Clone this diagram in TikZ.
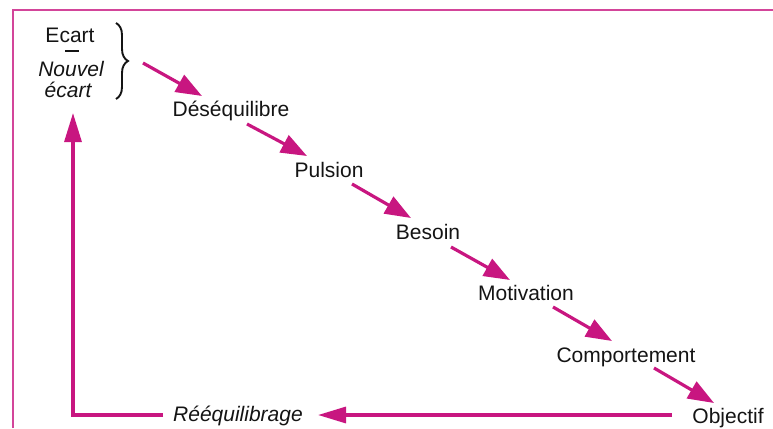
\documentclass[tikz,border=0pt]{standalone}
\usepackage{fontspec}
\setmainfont{Liberation Sans}
\usetikzlibrary{arrows.meta,decorations.pathreplacing}
\definecolor{mag}{RGB}{200,22,128}
\definecolor{txt}{RGB}{20,20,20}
\begin{document}
\begin{tikzpicture}[x=1pt,y=-1pt,
  lbl/.style={anchor=base,inner sep=0pt,font=\fontsize{21}{25}\selectfont,text=txt},
  ilbl/.style={lbl,font=\fontsize{21}{25}\selectfont\itshape},
  arr/.style={draw=mag,line width=3.2pt,-{Triangle[length=26pt,width=19pt]}},
  ]
\useasboundingbox (0,0) rectangle (773,428);
% frame
\draw[mag!80,line width=1.2pt] (13,428) -- (13,10) -- (773,10);
% left group
\node[lbl] (ecart) at (70,42) {Ecart};
\draw[txt,line width=1.4pt] (65,51) -- (79,51);
\node[ilbl] (nouvel) at (71,76) {Nouvel};
\node[ilbl] (ecart2) at (68,97) {écart};
\draw[txt,line width=1.9pt,decorate,decoration={brace,amplitude=12pt}] (116,23) -- (116,99);
\coordinate (btip) at (128,61);
% chain
\node[lbl] (des) at (231,116) {Déséquilibre};
\node[lbl] (pul) at (329,177) {Pulsion};
\node[lbl] (bes) at (428,239) {Besoin};
\node[lbl] (mot) at (526,300) {Motivation};
\node[lbl] (com) at (626,362) {Comportement};
\node[lbl] (obj) at (728,423) {Objectif};
\node[ilbl] (ree) at (238,421) {Rééquilibrage};
\draw[arr] ([shift={(15,2)}]btip) -- ([shift={(-29,-20)}]des.base);
\draw[arr] ([shift={(16,8)}]des.base) -- ([shift={(-22,-21)}]pul.base);
\draw[arr] ([shift={(23,7)}]pul.base) -- ([shift={(-17,-21)}]bes.base);
\draw[arr] ([shift={(23,8)}]bes.base) -- ([shift={(-16,-20)}]mot.base);
\draw[arr] ([shift={(27,7)}]mot.base) -- ([shift={(-14,-21)}]com.base);
\draw[arr] ([shift={(28,6)}]com.base) -- ([shift={(-14,-20)}]obj.base);
% return
\draw[arr,-{Triangle[length=28pt,width=16pt]}] ([shift={(-56,-8)}]obj.base) -- ([shift={(80,-6)}]ree.base);
\draw[arr,-{Triangle[length=29pt,width=17pt]}] ([shift={(-75,-6)}]ree.base) -| ([shift={(5,16)}]ecart2.base);
\end{tikzpicture}
\end{document}
